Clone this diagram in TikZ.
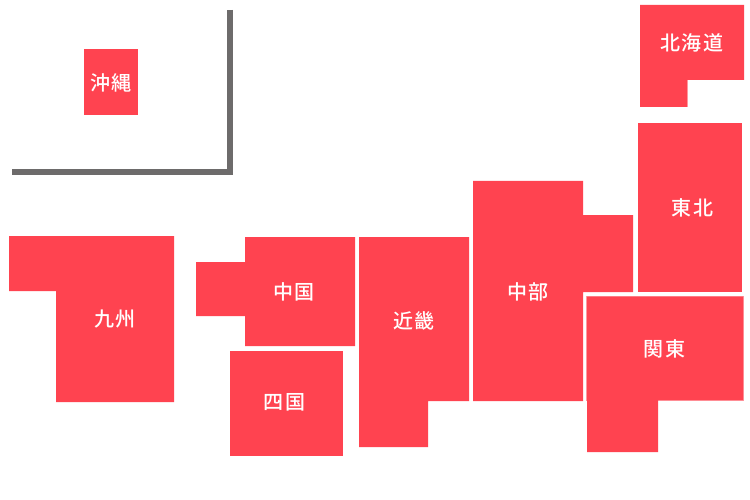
\documentclass[tikz,border=0pt]{standalone}
\usepackage{fontspec}
\setmainfont{Noto Sans CJK JP Medium}[LetterSpace=6]
\definecolor{region}{HTML}{FF4350}
\definecolor{halo}{HTML}{FF98A0}
\definecolor{frameline}{HTML}{6D6B6B}
\tikzset{
  area/.style={fill=region,draw=none},
  lab/.style={text=white,font=\fontsize{20}{20}\selectfont,inner sep=0pt,anchor=center},
  frameline/.style={draw=frameline,line width=6pt},
  edgeline/.style={draw=halo,line width=1pt}
}
\begin{document}
\begin{tikzpicture}[x=1pt,y=-1pt]
\useasboundingbox (0,0) rectangle (750,500);
\fill[white] (0,0) rectangle (750,500);
\draw[frameline] (230,10) -- (230,172) -- (12,172);
\fill[area] (640,5) -- (744,5) -- (744,80) -- (687,80) -- (687,107) -- (640,107) -- cycle;
\draw[edgeline] (687.5,80) -- (687.5,107);
\fill[area] (638,123) -- (742,123) -- (742,292) -- (638,292) -- cycle;
\draw[edgeline] (586.5,401) -- (586.5,296.0) -- (743.5,296.0) -- (743.5,400.5) -- (658,400.5);
\fill[area] (587,296.5) -- (743,296.5) -- (743,400) -- (658,400) -- (658,452) -- (587,452) -- cycle;
\fill[area] (473,181) -- (583,181) -- (583,215) -- (633,215) -- (633,292) -- (583,292) -- (583,401) -- (473,401) -- cycle;
\fill[area] (359,237) -- (469,237) -- (469,401) -- (428,401) -- (428,447) -- (359,447) -- cycle;
\fill[area] (245,237) -- (355,237) -- (355,346) -- (245,346) -- (245,316) -- (196,316) -- (196,262) -- (245,262) -- cycle;
\fill[area] (230,351) -- (343,351) -- (343,456) -- (230,456) -- cycle;
\fill[area] (9,236) -- (174,236) -- (174,402) -- (56,402) -- (56,291) -- (9,291) -- cycle;
\fill[area] (84,49) -- (138,49) -- (138,115) -- (84,115) -- cycle;
\node[lab] (hokkaido) at (692,43) {北海道};
\node[lab] (tohoku) at (692.5,208) {東北};
\node[lab] (kanto) at (664.5,349) {関東};
\node[lab] (chubu) at (528,292) {中部};
\node[lab] (kinki) at (414,320.5) {近畿};
\node[lab] (chugoku) at (294,292) {中国};
\node[lab] (shikoku) at (284.5,402.5) {四国};
\node[lab] (kyushu) at (115,319.5) {九州};
\node[lab] (okinawa) at (111,82.5) {沖縄};
\end{tikzpicture}
\end{document}
